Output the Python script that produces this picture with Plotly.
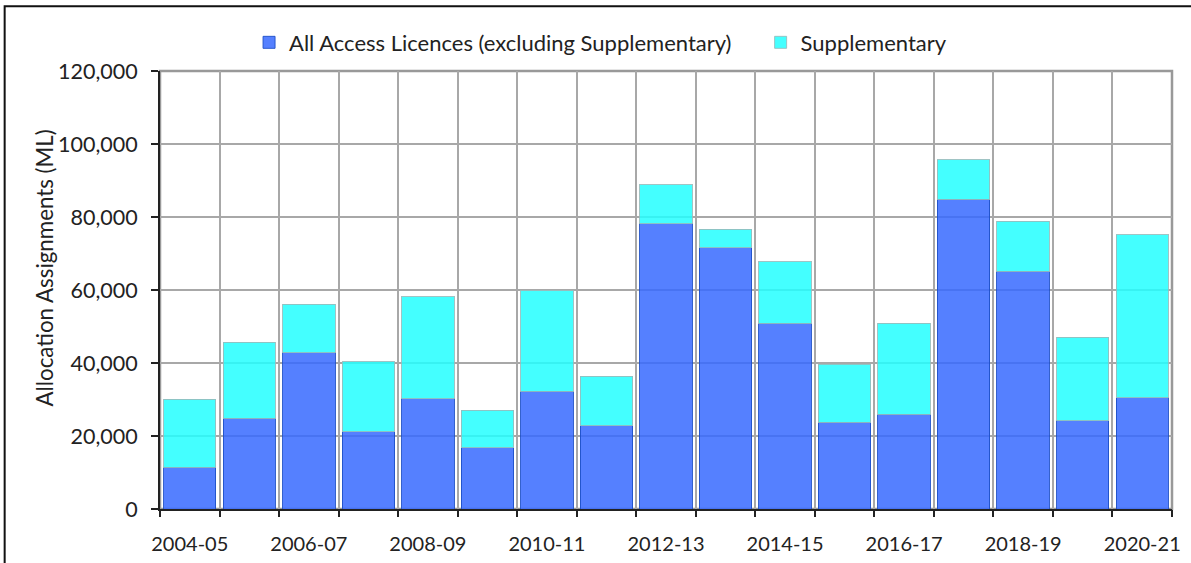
import plotly.graph_objects as go

years = ["2004-05", "2005-06", "2006-07", "2007-08", "2008-09", "2009-10", "2010-11",
         "2011-12", "2012-13", "2013-14", "2014-15", "2015-16", "2016-17", "2017-18",
         "2018-19", "2019-20", "2020-21"]
# All Access Licences (excluding Supplementary), ML
general = [11500, 24900, 42800, 21100, 30200, 16800, 32300, 22800, 78200, 71600,
           50900, 23800, 26000, 84900, 65200, 24200, 30500]
# Supplementary, ML
supplementary = [18600, 20800, 13300, 19200, 28000, 10200, 27500, 13600, 10700, 5100,
                 16800, 15900, 24900, 10800, 13700, 22800, 44600]

tick_labels = years[::2]
y_title = "Allocation Assignments (ML)"
FONT = "Lato, 'Open Sans', sans-serif"

fig = go.Figure()
fig.add_trace(go.Bar(
    x=years, y=general, name="All Access Licences (excluding Supplementary)",
    marker=dict(color="rgba(55,106,255,0.85)", line=dict(color="rgba(30,80,200,0.9)", width=1)),
    legend="legend",
))
fig.add_trace(go.Bar(
    x=years, y=supplementary, name="Supplementary",
    marker=dict(color="rgba(35,255,255,0.85)", line=dict(color="rgba(150,190,190,0.9)", width=1)),
    legend="legend2",
))

n = len(years)
leg_common = dict(orientation="h", xanchor="left", y=1.065, yanchor="middle",
                  font=dict(size=22), itemwidth=30, bgcolor="rgba(0,0,0,0)")
fig.update_layout(
    width=1191, height=563,
    barmode="stack", bargap=0.12,
    plot_bgcolor="white", paper_bgcolor="white",
    margin=dict(l=160, r=19, t=71, b=54, autoexpand=False),
    font=dict(family=FONT, size=21, color="#222222"),
    legend=dict(x=0.088, **leg_common),
    legend2=dict(x=0.5935, **leg_common),
    xaxis=dict(
        type="category", range=[-0.5, n - 0.5], automargin=False,
        tickmode="array", tickvals=tick_labels, ticktext=tick_labels,
        ticks="", showgrid=False, showline=True, linecolor="#222222", linewidth=2,
        tickfont=dict(size=20), zeroline=False, ticklabelstandoff=16,
    ),
    xaxis2=dict(
        overlaying="x", type="linear", range=[-0.5, n - 0.5], side="bottom", automargin=False,
        tickmode="array", tickvals=[i - 0.5 for i in range(n + 1)],
        showticklabels=False, ticks="outside", ticklen=7, tickwidth=1.5, tickcolor="#222222",
        showgrid=True, gridcolor="#A8A8A8", gridwidth=2, zeroline=False, showline=False,
    ),
    yaxis=dict(
        range=[0, 120000], dtick=20000, tickformat=",", automargin=False,
        ticks="outside", ticklen=7, tickwidth=1.5, tickcolor="#222222",
        showgrid=True, gridcolor="#A8A8A8", gridwidth=2,
        showline=True, linecolor="#222222", linewidth=2, zeroline=False,
        tickfont=dict(size=21.5), ticklabelstandoff=9,
    ),
    annotations=[
        dict(text=y_title, xref="paper", yref="paper", x=-0.1136, y=0.549,
             textangle=-90, showarrow=False, xanchor="center", yanchor="middle",
             font=dict(size=22.3, family=FONT, color="#222222")),
    ],
    shapes=[
        dict(type="rect", xref="paper", yref="paper", x0=0, x1=1, y0=0, y1=1,
             line=dict(color="#999999", width=2.5), layer="below"),
        dict(type="rect", xref="paper", yref="paper", x0=-0.1535, x1=1.05, y0=-0.2, y1=1.148,
             line=dict(color="#111111", width=2), layer="below"),
    ],
)
# invisible anchor so the overlay axis renders
fig.add_trace(go.Scatter(x=[-0.5, n - 0.5], y=[0, 0], xaxis="x2", mode="none",
                         showlegend=False, hoverinfo="skip"))

fig.write_html("out.html", config={"displayModeBar": False},
               post_script="document.body.style.margin='0';")
